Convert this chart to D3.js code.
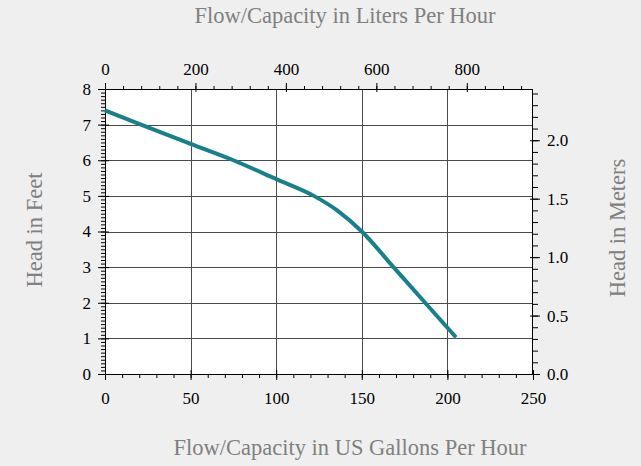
<!DOCTYPE html>
<html lang="en">
<head>
<style>
    body { margin: 0; background: #efefef; }
    svg { display: block; font-family: "Liberation Serif", "Times New Roman", serif; }
    .tick text { font-family: "Liberation Serif", "Times New Roman", serif; font-size: 17px; fill: #000; }
    .title { font-size: 22.5px; fill: #808080; }
</style>
<script src="https://d3js.org/d3.v7.min.js"></script>
</head>
<body>
<svg width="641" height="466"></svg>
<script>
// pump curve
var flowGph = [0, 21, 50, 75, 100, 122, 136, 150, 168.5, 187, 205];
var headFt  = [7.4, 7.0, 6.46, 6.0, 5.47, 5.0, 4.58, 4.0, 3.0, 2.0, 1.03];

var gphTicks = [0, 50, 100, 150, 200, 250];
var lphTicks = [0, 200, 400, 600, 800];
var ftTicks  = [0, 1, 2, 3, 4, 5, 6, 7, 8];
var mTicks   = [0, 0.5, 1.0, 1.5, 2.0];

var GAL_TO_L = 3.785411784, FT_TO_M = 0.3048;

var svg = d3.select("svg");
var pL = 105, pR = 533, pT = 89, pB = 374;

var x  = d3.scaleLinear().domain([0, 250]).range([pL, pR]);
var xL = d3.scaleLinear().domain([0, 250 * GAL_TO_L]).range([pL, pR]);
var y  = d3.scaleLinear().domain([0, 8]).range([pB, pT]);
var yM = d3.scaleLinear().domain([0, 8 * FT_TO_M]).range([pB, pT]);

svg.append("rect")
    .attr("x", pL).attr("y", pT)
    .attr("width", pR - pL).attr("height", pB - pT)
    .attr("fill", "#fff");

// grid
svg.append("g").selectAll("line")
    .data(gphTicks.slice(1, -1))
    .enter().append("line")
    .attr("x1", d => Math.round(x(d)) + 0.5).attr("x2", d => Math.round(x(d)) + 0.5)
    .attr("y1", pT).attr("y2", pB)
    .attr("stroke", "#4a4a4a");
svg.append("g").selectAll("line")
    .data(ftTicks.slice(1, -1))
    .enter().append("line")
    .attr("y1", d => Math.round(y(d)) + 0.5).attr("y2", d => Math.round(y(d)) + 0.5)
    .attr("x1", pL).attr("x2", pR)
    .attr("stroke", "#4a4a4a");

function minor(g) {
    g.select(".domain").remove();
    g.selectAll(".tick line").attr("stroke", "#000");
}

// bottom: US gallons
svg.append("g").attr("transform", "translate(0," + pB + ")")
    .call(d3.axisBottom(x).tickValues(d3.range(0, 250.01, 10)).tickFormat("").tickSizeInner(4).tickSizeOuter(0))
    .call(minor);
svg.append("g").attr("transform", "translate(0," + pB + ")")
    .call(d3.axisBottom(x).tickValues(gphTicks).tickSizeInner(6).tickSizeOuter(0).tickPadding(12))
    .call(minor)
    .call(g => g.selectAll(".tick line").attr("y1", -4));

// top: liters
svg.append("g").attr("transform", "translate(0," + pT + ")")
    .call(d3.axisTop(xL).tickValues(d3.range(0, 946, 40)).tickFormat("").tickSizeInner(3).tickSizeOuter(0))
    .call(minor);
svg.append("g").attr("transform", "translate(0," + pT + ")")
    .call(d3.axisTop(xL).tickValues(lphTicks).tickSizeInner(6).tickSizeOuter(0).tickPadding(8))
    .call(minor)
    .call(g => g.selectAll(".tick line").attr("y1", 3));

// left: feet
svg.append("g").attr("transform", "translate(" + pL + ",0)")
    .call(d3.axisLeft(y).tickValues(d3.range(0, 80.5, 1).map(d => d / 10)).tickFormat("").tickSizeInner(4).tickSizeOuter(0))
    .call(minor);
svg.append("g").attr("transform", "translate(" + pL + ",0)")
    .call(d3.axisLeft(y).tickValues(ftTicks).tickSizeInner(7).tickSizeOuter(0).tickPadding(7))
    .call(minor)
    .call(g => g.selectAll(".tick line").attr("x1", 4));

// right: meters
svg.append("g").attr("transform", "translate(" + pR + ",0)")
    .call(d3.axisRight(yM).tickValues(d3.range(0, 25, 1).map(d => d / 10)).tickFormat("").tickSizeInner(5).tickSizeOuter(0))
    .call(minor);
svg.append("g").attr("transform", "translate(" + pR + ",0)")
    .call(d3.axisRight(yM).tickValues(mTicks).tickFormat(d3.format(".1f")).tickSizeInner(7).tickSizeOuter(0).tickPadding(7))
    .call(minor)
    .call(g => g.selectAll(".tick line").attr("x1", -3));

// frame
svg.append("rect")
    .attr("x", pL + 0.5).attr("y", pT + 0.5)
    .attr("width", pR - pL - 1).attr("height", pB - pT)
    .attr("fill", "none").attr("stroke", "#000");

// the curve
var pts = flowGph.map((d, i) => [d, headFt[i]]);
svg.append("path")
    .datum(pts)
    .attr("fill", "none")
    .attr("stroke", "#17808a")
    .attr("stroke-width", 4)
    .attr("d", d3.line().x(d => x(d[0])).y(d => y(d[1])).curve(d3.curveMonotoneX));

// titles
svg.append("text").attr("class", "title")
    .attr("x", 345).attr("y", 23).attr("text-anchor", "middle")
    .text("Flow/Capacity in Liters Per Hour");
svg.append("text").attr("class", "title")
    .attr("x", 350).attr("y", 455).attr("text-anchor", "middle")
    .text("Flow/Capacity in US Gallons Per Hour");
svg.append("text").attr("class", "title")
    .attr("transform", "translate(42,230) rotate(-90)").attr("text-anchor", "middle")
    .text("Head in Feet");
svg.append("text").attr("class", "title")
    .attr("transform", "translate(625,228) rotate(-90)").attr("text-anchor", "middle")
    .text("Head in Meters");
</script>
</body>
</html>
